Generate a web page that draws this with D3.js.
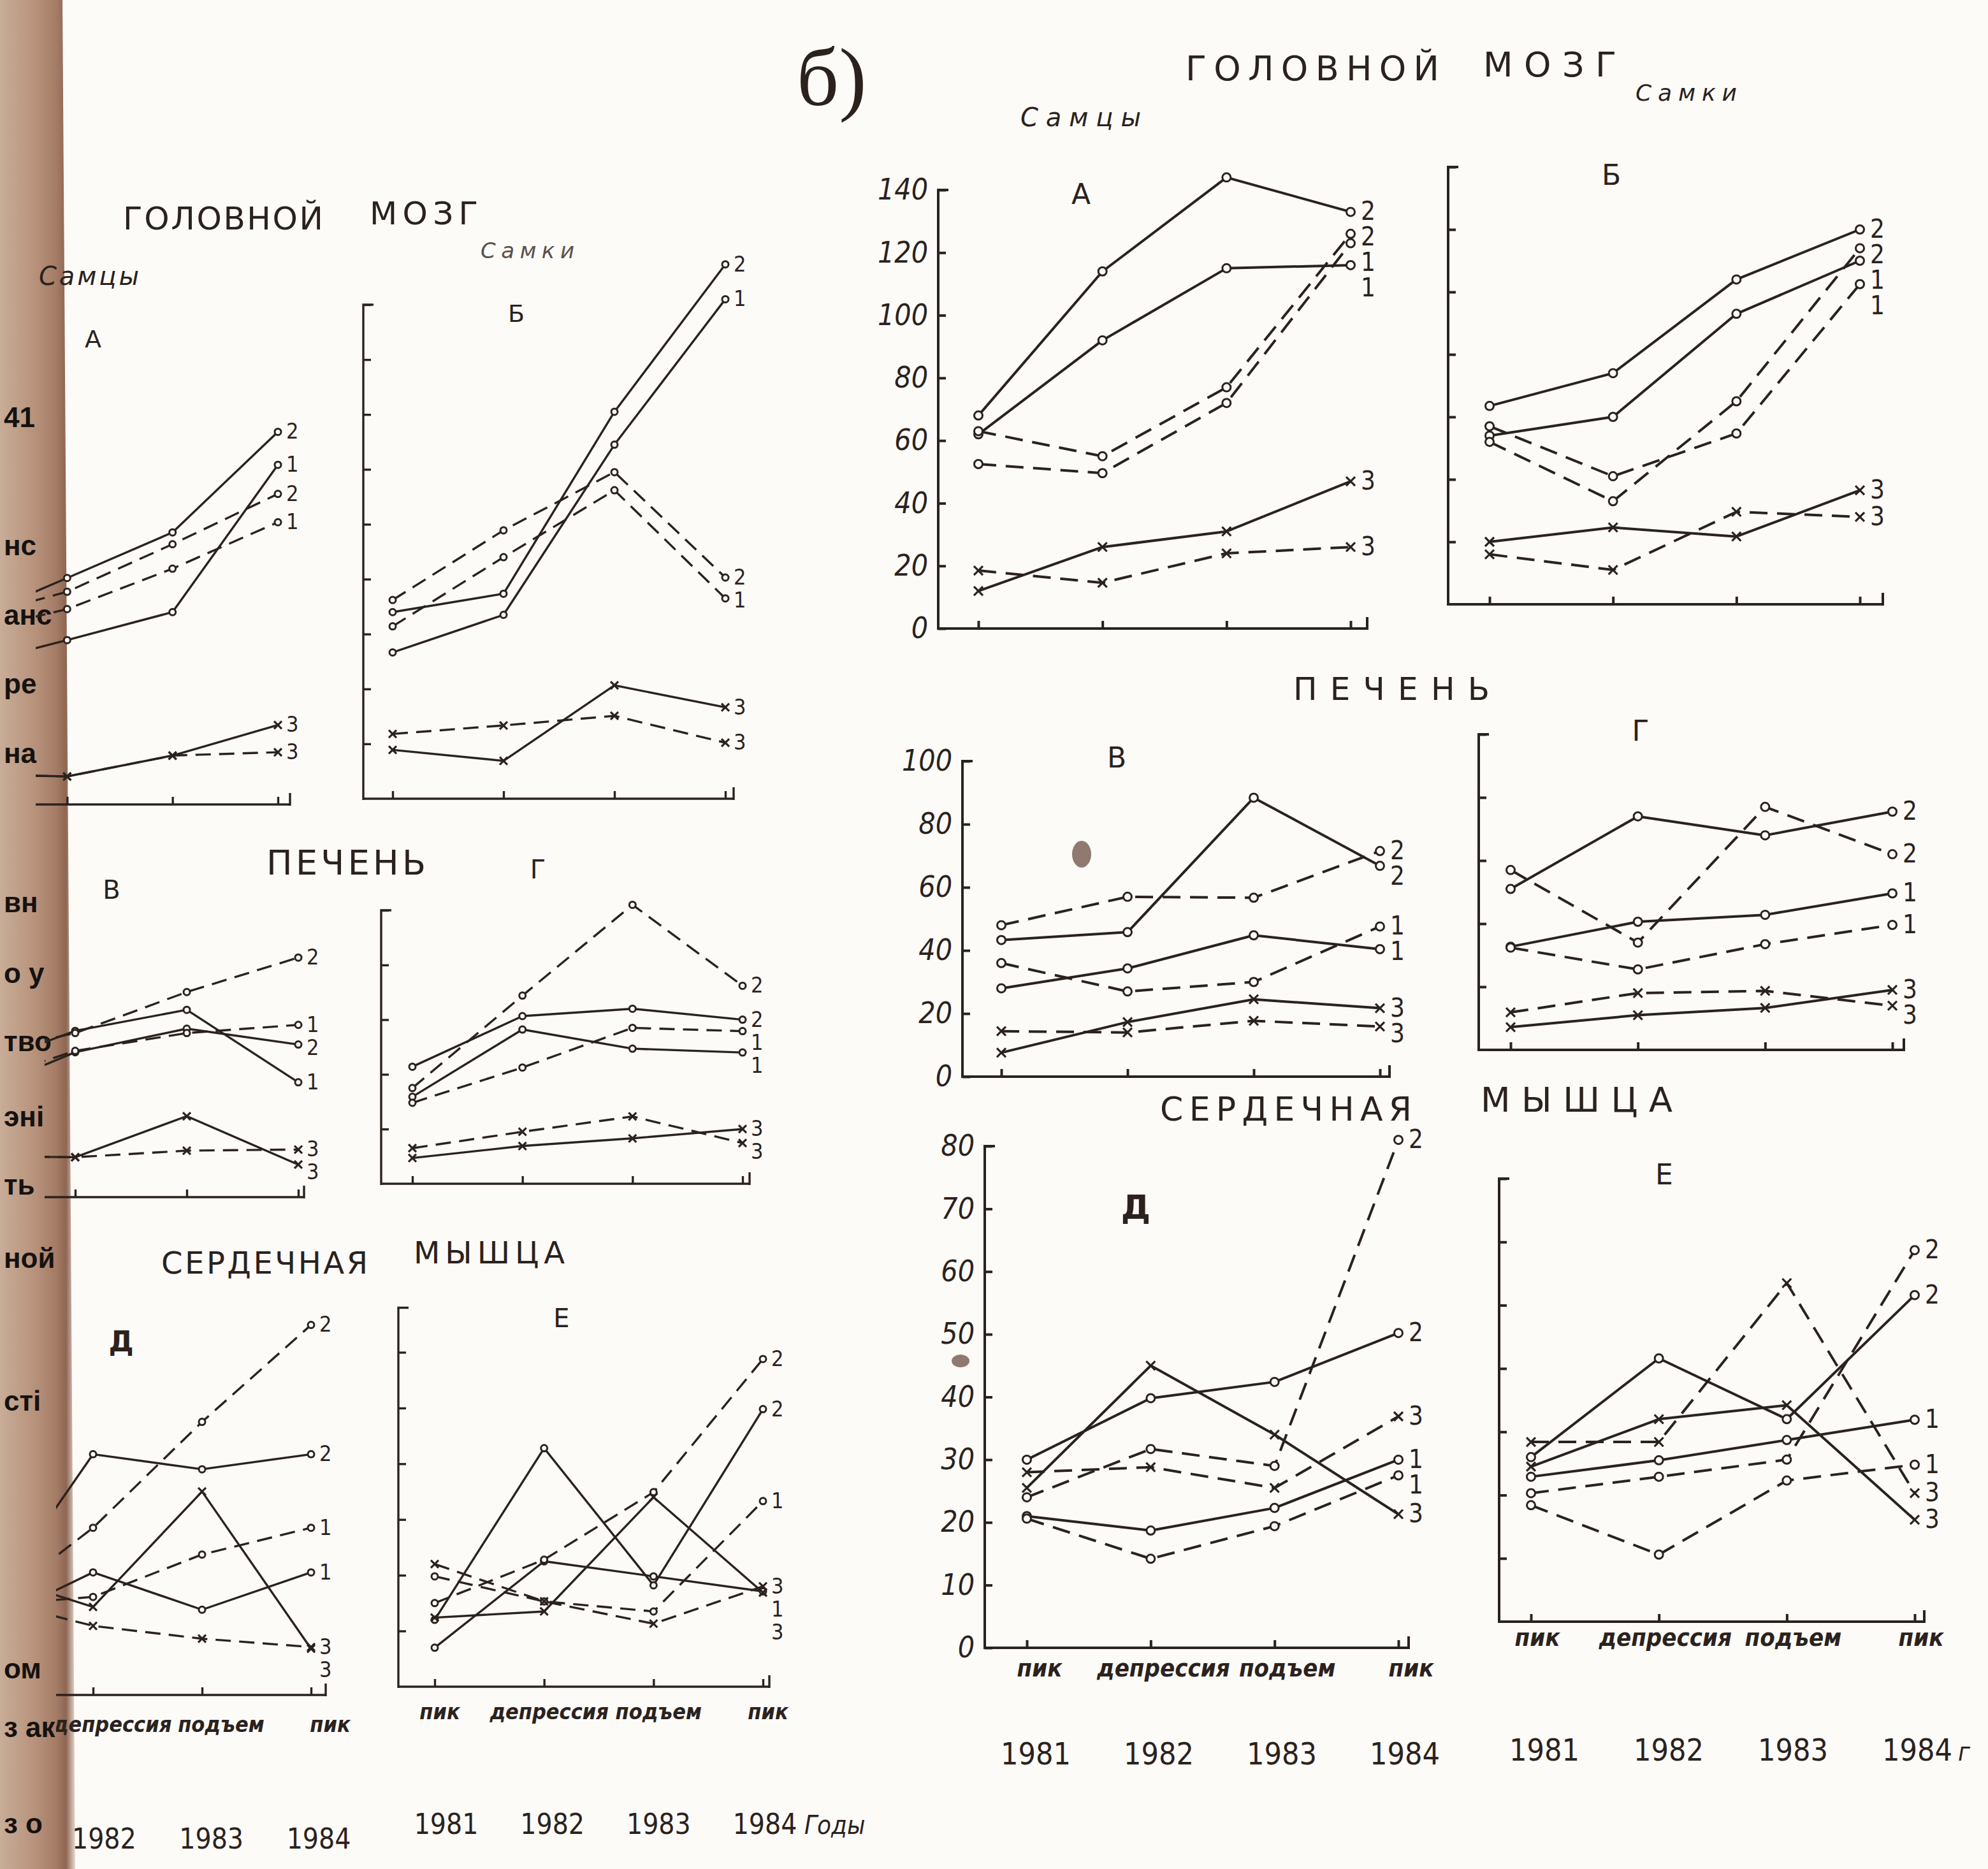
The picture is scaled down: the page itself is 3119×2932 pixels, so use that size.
<!DOCTYPE html>
<html><head><meta charset="utf-8">
<script src="https://cdn.jsdelivr.net/npm/d3@7"></script>
<style>body{margin:0;background:#fcfbf8}svg{display:block}</style>
</head><body>
<svg id="c" width="3119" height="2932"></svg>
<script>
// ---------------- DATA ----------------
const years = ["1981", "1982", "1983", "1984"];
const phases = ["пик", "депрессия", "подъем", "пик"];
const lineNames = ["1", "2", "3"];

// б) right group — brain, males (А)
const R_A_s1 = [62, 92, 115, 116];
const R_A_s2 = [68, 114, 144, 133];
const R_A_s3 = [12, 26, 31, 47];
const R_A_d1 = [52.5, 49.6, 72, 123];
const R_A_d2 = [63, 55, 77, 126];
const R_A_d3 = [18.5, 14.6, 24, 26];
// brain, females (Б)
const R_B_s1 = [54, 60, 93, 110];
const R_B_s2 = [63.5, 74, 104, 120];
const R_B_s3 = [20, 24.6, 21.7, 36.5];
const R_B_d1 = [57, 41, 54.7, 102.5];
const R_B_d2 = [52, 33, 65, 114];
const R_B_d3 = [16, 11, 29.6, 28];
// liver, males (В)
const R_V_s1 = [28, 34.3, 44.8, 40.4];
const R_V_s2 = [43.3, 45.8, 88.4, 66.8];
const R_V_s3 = [7.6, 17.3, 24.5, 21.7];
const R_V_d1 = [36, 27, 30, 47.6];
const R_V_d2 = [48, 57, 56.7, 71.5];
const R_V_d3 = [14.4, 14, 17.7, 15.9];
// liver, females (Г)
const R_G_s1 = [32.7, 40.6, 42.8, 49.6];
const R_G_s2 = [51, 74, 68, 75.5];
const R_G_s3 = [7.2, 11, 13.3, 19];
const R_G_d1 = [32.4, 25.5, 33.5, 39.6];
const R_G_d2 = [57, 34, 77, 62];
const R_G_d3 = [11.9, 18, 18.7, 14];
// heart, males (Д)
const R_D_s1 = [21, 18.7, 22.3, 30];
const R_D_s2 = [30, 39.8, 42.4, 50.2];
const R_D_s3 = [25.5, 45, 34, 21.3];
const R_D_d1 = [20.6, 14.2, 19.4, 27.5];
const R_D_d2 = [24, 31.7, 29, 81];
const R_D_d3 = [28, 28.8, 25.5, 36.9];
// heart, females (Е)
const R_E_s1 = [22.9, 25.5, 28.7, 31.9];
const R_E_s2 = [26, 41.6, 32, 51.6];
const R_E_s3 = [24.5, 32, 34.2, 16.1];
const R_E_d1 = [18.4, 10.6, 22.3, 24.8];
const R_E_d2 = [20.3, 22.9, 25.6, 58.7];
const R_E_d3 = [28.4, 28.4, 53.5, 20.3];

// а) left group
const L_A_s1 = [50, 59.8, 70, 123.6];
const L_A_s2 = [66, 82.4, 99, 135.6];
const L_A_s3 = [11, 10.2, 17.8, 28.9];
const L_A_d1 = [62, 71.1, 85.8, 102.7];
const L_A_d2 = [67, 77.4, 94.7, 113];
const L_A_d3 = [11, 10.2, 17.8, 19];

const L_B_s1 = [53.3, 67, 129, 182];
const L_B_s2 = [68, 74.7, 141, 194.7];
const L_B_s3 = [17.8, 13.8, 41.3, 33.3];
const L_B_d1 = [62.8, 88, 112.4, 73];
const L_B_d2 = [72.4, 97.8, 119, 80.6];
const L_B_d3 = [23.6, 26.7, 30.2, 20.4];

const L_V_s1 = [45.6, 60.8, 68.5, 42];
const L_V_s2 = [36, 53, 61.6, 55.8];
const L_V_s3 = [15, 14.6, 29.6, 11.9];
const L_V_d1 = [40, 53.5, 60, 63];
const L_V_d2 = [51, 60, 75, 87.6];
const L_V_d3 = [15, 14.6, 17, 17.4];

const L_G_s1 = [31.8, 56.4, 49.4, 48];
const L_G_s2 = [42.8, 61.3, 64, 60];
const L_G_s3 = [9.4, 13.8, 16.6, 20];
const L_G_d1 = [29.6, 42.5, 57, 55.8];
const L_G_d2 = [35, 68.8, 102, 72.4];
const L_G_d3 = [13, 19, 24.6, 14.9];

const L_D_s1 = [12.6, 22, 15.3, 22];
const L_D_s2 = [15, 43.2, 40.5, 43.2];
const L_D_s3 = [22, 15.8, 36.5, 8.3];
const L_D_d1 = [16, 17.6, 25.2, 30];
const L_D_d2 = [15, 30, 49, 66.4];
const L_D_d3 = [17.4, 12.4, 10.1, 8.6];

const L_E_s1 = [7, 22.5, 19.8, 17.1];
const L_E_s2 = [12, 42.8, 18.2, 49.8];
const L_E_s3 = [12.4, 13.5, 34, 16.9];
const L_E_d1 = [19.8, 15.3, 13.5, 33.3];
const L_E_d2 = [15, 22.8, 34.9, 58.8];
const L_E_d3 = [22, 15.3, 11.3, 18];

// ---------------- DRAWING ----------------
const INK = "#2b221d";
const PAPER = "#fcfbf8";
const FONT = "'DejaVu Sans', sans-serif";
const COND = "'DejaVu Sans Condensed', 'DejaVu Sans', sans-serif";
const svg = d3.select("#c");
svg.append("rect").attr("width", 3119).attr("height", 2932).attr("fill", PAPER);

const defs = svg.append("defs");
const grad = defs.append("linearGradient").attr("id", "spine").attr("x1", "0").attr("x2", "1").attr("y1", "0").attr("y2", "0");
grad.append("stop").attr("offset", "0").attr("stop-color", "#c8ad98");
grad.append("stop").attr("offset", "0.45").attr("stop-color", "#b8937c");
grad.append("stop").attr("offset", "0.75").attr("stop-color", "#a47c66");
grad.append("stop").attr("offset", "0.88").attr("stop-color", "#8f6653");
grad.append("stop").attr("offset", "1").attr("stop-color", "#e6d9cf");

function sets(s1, s2, s3, d1, d2, d3) {
  return [
    {v: s1, dash: false, mark: "o", lab: lineNames[0]},
    {v: s2, dash: false, mark: "o", lab: lineNames[1]},
    {v: s3, dash: false, mark: "x", lab: lineNames[2]},
    {v: d1, dash: true, mark: "o", lab: lineNames[0]},
    {v: d2, dash: true, mark: "o", lab: lineNames[1]},
    {v: d3, dash: true, mark: "x", lab: lineNames[2]}
  ];
}

const panels = [
  {id: "RA", big: true, xr: [1535, 2119], ymax: 140, yr: [986, 298], axisX: 1472, step: 20, top: 140, yLabels: true, xAxis: [1472, 2145],
   series: sets(R_A_s1, R_A_s2, R_A_s3, R_A_d1, R_A_d2, R_A_d3)},
  {id: "RB", big: true, xr: [2337, 2918], ymax: 140, yr: [948, 262], axisX: 2272, step: 20, top: 140, yLabels: false, xAxis: [2272, 2954],
   series: sets(R_B_s1, R_B_s2, R_B_s3, R_B_d1, R_B_d2, R_B_d3)},
  {id: "RV", big: true, xr: [1571, 2165], ymax: 100, yr: [1689, 1194], axisX: 1510, step: 20, top: 100, yLabels: true, xAxis: [1510, 2180],
   series: sets(R_V_s1, R_V_s2, R_V_s3, R_V_d1, R_V_d2, R_V_d3)},
  {id: "RG", big: true, xr: [2370, 2969], ymax: 100, yr: [1647, 1152], axisX: 2320, step: 20, top: 100, yLabels: false, xAxis: [2320, 2987],
   series: sets(R_G_s1, R_G_s2, R_G_s3, R_G_d1, R_G_d2, R_G_d3)},
  {id: "RD", big: true, xr: [1611, 2194], ymax: 80, yr: [2585, 1798], axisX: 1545, step: 10, top: 80, yLabels: true, xAxis: [1545, 2210],
   cats: {y: 2630, dx: 20}, yrs: {range: [1625, 2204], y: 2768},
   series: sets(R_D_s1, R_D_s2, R_D_s3, R_D_d1, R_D_d2, R_D_d3)},
  {id: "RE", big: true, xr: [2402, 3004], ymax: 70, yr: [2544, 1849], axisX: 2352, step: 10, top: 70, yLabels: false, xAxis: [2352, 3019],
   cats: {y: 2582, dx: 10}, yrs: {range: [2423, 3008], y: 2762, suffix: {text: "г", x: 3072}},
   series: sets(R_E_s1, R_E_s2, R_E_s3, R_E_d1, R_E_d2, R_E_d3)},
  {id: "LA", big: false, xr: [-60, 436], ymax: 180, yr: [1262, 486], axisX: null, xAxis: [40, 455], clip: 56,
   series: sets(L_A_s1, L_A_s2, L_A_s3, L_A_d1, L_A_d2, L_A_d3)},
  {id: "LB", big: false, xr: [616, 1138], ymax: 180, yr: [1253, 478], axisX: 570, step: 20, top: 180, yLabels: false, xAxis: [570, 1151],
   series: sets(L_B_s1, L_B_s2, L_B_s3, L_B_d1, L_B_d2, L_B_d3)},
  {id: "LV", big: false, xr: [-57, 468], ymax: 100, yr: [1878, 1449], axisX: null, xAxis: [40, 477], clip: 70,
   series: sets(L_V_s1, L_V_s2, L_V_s3, L_V_d1, L_V_d2, L_V_d3)},
  {id: "LG", big: false, xr: [647, 1165], ymax: 100, yr: [1857, 1428], axisX: 598, step: 20, top: 100, yLabels: false, xAxis: [598, 1176],
   series: sets(L_G_s1, L_G_s2, L_G_s3, L_G_d1, L_G_d2, L_G_d3)},
  {id: "LD", big: false, xr: [-25, 488], ymax: 70, yr: [2659, 2047], axisX: null, xAxis: [40, 511], clip: 88,
   cats: {y: 2717, dx: 30}, yrs: {range: [-5, 500], y: 2900},
   series: sets(L_D_s1, L_D_s2, L_D_s3, L_D_d1, L_D_d2, L_D_d3)},
  {id: "LE", big: false, xr: [682, 1197], ymax: 70, yr: [2646, 2034], axisX: 625, step: 10, top: 68, yLabels: false, xAxis: [625, 1207],
   cats: {y: 2697, dx: 8}, yrs: {range: [700, 1200], y: 2877, suffix: {text: "Годы", x: 1262}},
   series: sets(L_E_s1, L_E_s2, L_E_s3, L_E_d1, L_E_d2, L_E_d3)}
];

// spine of the book (left edge)
svg.append("path").attr("d", "M0,0 L98,0 L118,2932 L0,2932 Z").attr("fill", "url(#spine)");
const spineFragments = [["41", 653], ["нс", 854], ["анс", 963], ["ре", 1071], ["на", 1180],
  ["вн", 1414], ["о у", 1525], ["тво", 1632], ["эні", 1750], ["ть", 1857],
  ["ной", 1972], ["сті", 2196], ["ом", 2616], ["з ак", 2708], ["з о", 2859]];
svg.append("g").selectAll("text").data(spineFragments).join("text")
  .attr("x", 6).attr("y", d => d[1] + 17)
  .attr("font-family", "'Liberation Sans', sans-serif").attr("font-weight", "bold").attr("font-size", 44)
  .attr("fill", "#161210").text(d => d[0]);

function drawPanel(p) {
  const g = svg.append("g");
  const minX = p.clip != null ? p.clip : -Infinity;
  if (p.clip != null) {
    defs.append("clipPath").attr("id", "clip" + p.id).append("rect")
      .attr("x", p.clip).attr("y", 0).attr("width", 3119).attr("height", 2932);
    g.attr("clip-path", `url(#clip${p.id})`);
  }
  const x = d3.scaleLinear().domain([0, 3]).range(p.xr);
  const y = d3.scaleLinear().domain([0, p.ymax]).range(p.yr);
  const sw = p.big ? 4 : 3.4;
  const y0 = y(0);

  // x axis
  g.append("line").attr("x1", p.xAxis[0]).attr("x2", p.xAxis[1]).attr("y1", y0).attr("y2", y0)
    .attr("stroke", INK).attr("stroke-width", sw);
  const xa = g.append("g").attr("transform", `translate(0,${y0})`)
    .call(d3.axisBottom(x).tickValues([0, 1, 2, 3]).tickSize(-12).tickFormat(""));
  xa.select(".domain").remove();
  xa.selectAll("line").attr("stroke", INK).attr("stroke-width", sw);
  g.append("line").attr("x1", p.xAxis[1]).attr("x2", p.xAxis[1]).attr("y1", y0 + 2).attr("y2", y0 - 18)
    .attr("stroke", INK).attr("stroke-width", sw);

  // y axis
  if (p.axisX != null) {
    const ticks = d3.range(p.yLabels ? 0 : p.step, p.top + 0.01, p.step);
    const ya = g.append("g").attr("transform", `translate(${p.axisX},0)`)
      .call(d3.axisLeft(y).tickValues(ticks).tickSize(-12).tickPadding(16).tickFormat(p.yLabels ? d3.format("d") : ""));
    ya.select(".domain").remove();
    ya.selectAll("line").attr("stroke", INK).attr("stroke-width", sw);
    ya.selectAll("text").attr("font-family", COND).attr("font-style", "italic")
      .attr("font-size", 46).attr("fill", INK);
    g.append("path").attr("d", `M${p.axisX + 16},${y(p.top)} H${p.axisX} V${y0 + 2}`)
      .attr("fill", "none").attr("stroke", INK).attr("stroke-width", sw);
  }

  // lines
  const line = d3.line().x((d, i) => x(i)).y(d => y(d));
  g.selectAll("path.series").data(p.series).join("path").attr("class", "series")
    .attr("d", d => line(d.v)).attr("fill", "none").attr("stroke", INK).attr("stroke-width", sw)
    .attr("stroke-linejoin", "round")
    .attr("stroke-dasharray", d => d.dash ? (p.big ? "28,15" : "24,13") : null);

  // markers
  const r = p.big ? 6.5 : 5;
  p.series.forEach(s => {
    const pts = s.v.map((v, i) => [x(i), y(v)]).filter(d => d[0] > minX);
    if (s.mark === "o") {
      g.selectAll(null).data(pts).join("circle").attr("cx", d => d[0]).attr("cy", d => d[1]).attr("r", r)
        .attr("fill", PAPER).attr("stroke", INK).attr("stroke-width", 3);
    } else {
      const k = p.big ? 7 : 6;
      g.selectAll(null).data(pts).join("path")
        .attr("d", d => `M${d[0] - k},${d[1] - k}L${d[0] + k},${d[1] + k}M${d[0] + k},${d[1] - k}L${d[0] - k},${d[1] + k}`)
        .attr("stroke", INK).attr("stroke-width", 3.2);
    }
  });

  // end labels with simple collision avoidance
  const gap = p.big ? 40 : 36;
  const labs = p.series.map(s => ({t: s.lab, x: x(3) + (p.big ? 16 : 13), y: y(s.v[3])})).sort((a, b) => a.y - b.y);
  for (let i = 1; i < labs.length; i++) if (labs[i].y - labs[i - 1].y < gap) labs[i].y = labs[i - 1].y + gap;
  g.selectAll("text.lab").data(labs).join("text").attr("class", "lab")
    .attr("x", d => d.x).attr("y", d => d.y + (p.big ? 13 : 11))
    .attr("font-family", COND).attr("font-size", p.big ? 40 : 34).attr("fill", INK).text(d => d.t);

  // category labels and years (only those not hidden under the book spine)
  if (p.cats) {
    g.selectAll("text.cat").data(phases.map((d, i) => ({d, i})).filter(o => x(o.i) + p.cats.dx > minX))
      .join("text").attr("class", "cat")
      .attr("x", o => x(o.i) + p.cats.dx).attr("y", p.cats.y).attr("text-anchor", "middle")
      .attr("font-family", COND).attr("font-style", "italic").attr("font-weight", "bold")
      .attr("font-size", p.big ? 38 : 34).attr("fill", INK).text(o => o.d);
  }
  if (p.yrs) {
    const xy = d3.scaleLinear().domain([0, 3]).range(p.yrs.range);
    g.selectAll("text.yr").data(years.map((d, i) => ({d, i})).filter(o => xy(o.i) - 40 > minX))
      .join("text").attr("class", "yr")
      .attr("x", o => xy(o.i)).attr("y", p.yrs.y).attr("text-anchor", "middle")
      .attr("font-family", COND).attr("font-size", p.big ? 48 : 44).attr("fill", INK).text(o => o.d);
    if (p.yrs.suffix) {
      g.append("text").attr("x", p.yrs.suffix.x).attr("y", p.yrs.y).attr("font-family", COND)
        .attr("font-style", "italic").attr("font-size", 40).attr("fill", INK).text(p.yrs.suffix.text);
    }
  }
}
panels.forEach(drawPanel);

// ---------------- TITLES ----------------
function txt(s, x, y, size, opts = {}) {
  const t = svg.append("text").attr("x", x).attr("y", y).attr("font-size", size)
    .attr("font-family", opts.family || FONT).attr("fill", opts.fill || INK).text(s);
  if (opts.len) t.attr("textLength", opts.len).attr("lengthAdjust", "spacing");
  if (opts.italic) t.attr("font-style", "italic");
  if (opts.bold) t.attr("font-weight", "bold");
  if (opts.anchor) t.attr("text-anchor", opts.anchor);
  return t;
}
// right group
txt("б)", 1250, 165, 130, {family: "'Liberation Serif', serif"});
txt("ГОЛОВНОЙ", 1860, 126, 54, {len: 398});
txt("МОЗГ", 2327, 120, 54, {len: 209});
txt("Самцы", 1601, 198, 40, {italic: true, len: 189});
txt("Самки", 2566, 158, 36, {italic: true, len: 159});
txt("А", 1696, 320, 44, {anchor: "middle"});
txt("Б", 2528, 290, 44, {anchor: "middle"});
txt("ПЕЧЕНЬ", 2029, 1098, 50, {len: 308});
txt("В", 1752, 1204, 44, {anchor: "middle"});
txt("Г", 2574, 1162, 44, {anchor: "middle"});
txt("СЕРДЕЧНАЯ", 1820, 1758, 52, {len: 395});
txt("МЫШЦА", 2323, 1744, 54, {len: 301});
txt("Д", 1782, 1912, 52, {anchor: "middle", bold: true});
txt("Е", 2611, 1858, 44, {anchor: "middle"});
// left group
txt("ГОЛОВНОЙ", 193, 360, 50, {len: 314});
txt("МОЗГ", 580, 352, 50, {len: 170});
txt("Самцы", 61, 447, 40, {italic: true, len: 157});
txt("Самки", 754, 405, 34, {italic: true, len: 147, fill: "#5a504a"});
txt("А", 146, 545, 38, {anchor: "middle"});
txt("Б", 810, 505, 38, {anchor: "middle"});
txt("ПЕЧЕНЬ", 418, 1372, 54, {len: 250});
txt("В", 175, 1410, 40, {anchor: "middle"});
txt("Г", 844, 1378, 40, {anchor: "middle"});
txt("СЕРДЕЧНАЯ", 253, 1998, 48, {len: 324});
txt("МЫШЦА", 649, 1982, 48, {len: 237});
txt("Д", 190, 2120, 44, {anchor: "middle", bold: true});
txt("Е", 881, 2082, 40, {anchor: "middle"});

// scan blots
svg.append("ellipse").attr("cx", 1697).attr("cy", 1340).attr("rx", 15).attr("ry", 21).attr("fill", "#7d6259").attr("opacity", 0.85);
svg.append("ellipse").attr("cx", 1507).attr("cy", 2135).attr("rx", 14).attr("ry", 10).attr("fill", "#7d6259").attr("opacity", 0.85);
</script>
</body></html>
